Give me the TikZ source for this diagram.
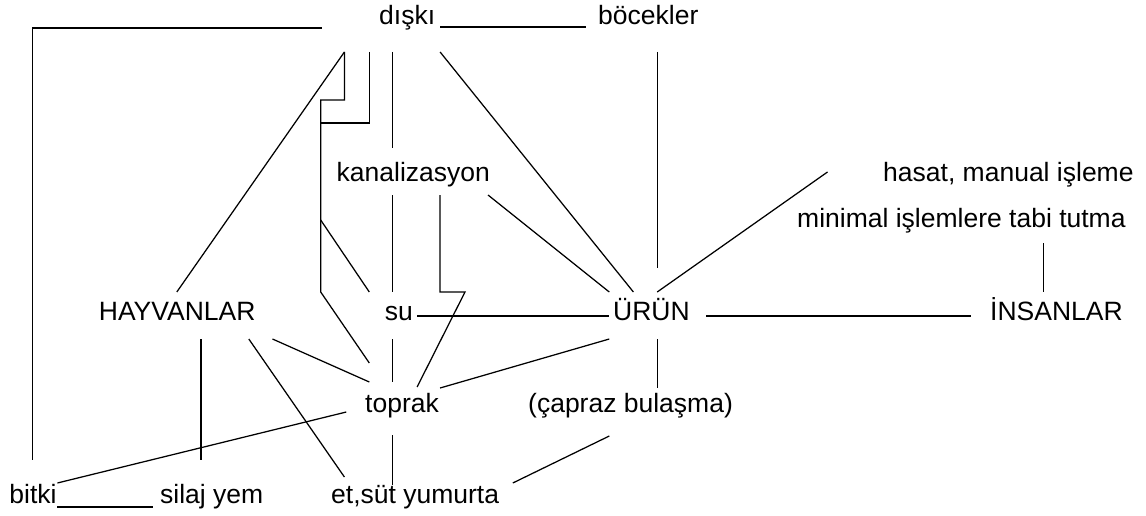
\documentclass[tikz,border=0pt]{standalone}
\usepackage{fontspec}
\setmainfont{Liberation Sans}
\begin{document}
\begin{tikzpicture}[x=1pt,y=-1pt,
  lbl/.style={inner sep=0pt, anchor=base west, font=\fontsize{26.5}{30}\selectfont},
  link/.style={line width=1.25pt, line join=miter}]
\useasboundingbox[fill=white] (0,0) rectangle (1146,516);

% ---- labels (left edge, baseline) ----
\node[lbl] (dk) at (379,25)    {dışkı};
\node[lbl] (bc) at (598,25)    {böcekler};
\node[lbl] (kn) at (336.5,182) {kanalizasyon};
\node[lbl] (hs) at (883,182)   {hasat, manual işleme};
\node[lbl] (mn) at (797,227)   {minimal işlemlere tabi tutma};
\node[lbl] (hy) at (98.7,320)  {HAYVANLAR};
\node[lbl] (su) at (384.6,320) {su};
\node[lbl] (ur) at (613,320)   {ÜRÜN};
\node[lbl] (in) at (990,320)   {İNSANLAR};
\node[lbl] (tp) at (365,412)   {toprak};
\node[lbl] (cb) at (528,412)   {(çapraz bulaşma)};
\node[lbl] (bt) at (9.2,503)   {bitki};
\node[lbl] (sy) at (160,503)   {silaj yem};
\node[lbl] (es) at (331,503)   {et,süt yumurta};

% ---- connector end points ----
% dışkı
\coordinate (dkL)  at (321.5,28);
\coordinate (dkR)  at (440.1,27);
\coordinate (dkA)  at (344.4,52);
\coordinate (dkB)  at (369.3,52);
\coordinate (dkC)  at (392.3,52);
\coordinate (dkD)  at (440.1,52);
% böcekler
\coordinate (bcL)  at (586.4,27);
\coordinate (bcS)  at (657.2,52);
% kanalizasyon
\coordinate (knN)  at (392.3,148);
\coordinate (knA)  at (392.3,195);
\coordinate (knB)  at (440.1,195);
\coordinate (knC)  at (488,195);
% hasat / minimal
\coordinate (hsS)  at (827.5,172);
\coordinate (mnS)  at (1043.7,243);
% HAYVANLAR
\coordinate (hyN)  at (176.8,292);
\coordinate (hyA)  at (200.9,339);
\coordinate (hyB)  at (248.8,339);
\coordinate (hyC)  at (272.5,339);
% su
\coordinate (suN)  at (392.3,292);
\coordinate (suW)  at (369.3,292);
\coordinate (suE)  at (417.1,316);
\coordinate (suS)  at (392.3,339);
% ÜRÜN
\coordinate (urN)  at (657.2,268);
\coordinate (urNW) at (609.3,292);
\coordinate (urND) at (633.4,292);
\coordinate (urNE) at (657.2,292);
\coordinate (urW)  at (609.3,316);
\coordinate (urE)  at (706.1,316);
\coordinate (urSW) at (609.3,339);
\coordinate (urS)  at (657.2,339);
% İNSANLAR
\coordinate (inN)  at (1043.7,292);
\coordinate (inW)  at (971,316);
% toprak
\coordinate (tpNW) at (369.3,363);
\coordinate (tpHy) at (369.3,382);
\coordinate (tpN)  at (392.3,382);
\coordinate (tpNE) at (417.1,387);
\coordinate (tpE)  at (440.1,388);
\coordinate (tpW)  at (346.3,412);
\coordinate (tpS)  at (392.3,435);
% (çapraz bulaşma)
\coordinate (cbN)  at (657.2,388);
\coordinate (cbS)  at (609.3,436);
% bottom row
\coordinate (btN)  at (32.5,460);
\coordinate (btE)  at (57.4,507);
\coordinate (btNE) at (57.4,483);
\coordinate (syW)  at (153.1,507);
\coordinate (syN)  at (200.9,460);
\coordinate (esNW) at (344.4,477);
\coordinate (esN)  at (392.3,485);
\coordinate (esNE) at (512.8,483);

% ---- connectors ----
\draw[link] (dkL) -- (32.5,28) -- (btN);
\draw[link] (dkR) -- (bcL);
\draw[link] (dkA) -- (hyN);
\draw[link] (dkA) -- (344.4,100) -- (320.7,100) -- (320.7,292) -- (tpNW);
\draw[link] (dkB) -- (369.3,123) -- (320.7,123);
\draw[link] (320.7,220) -- (suW);
\draw[link] (dkC) -- (knN);
\draw[link] (dkD) -- (urND);
\draw[link] (bcS) -- (urN);
\draw[link] (knA) -- (suN);
\draw[link] (knB) -- (440.1,292) -- (465,292) -- (tpNE);
\draw[link] (knC) -- (urNW);
\draw[link] (hsS) -- (urNE);
\draw[link] (mnS) -- (inN);
\draw[link] (suE) -- (urW);
\draw[link] (urE) -- (inW);
\draw[link] (urSW) -- (tpE);
\draw[link] (urS) -- (cbN);
\draw[link] (cbS) -- (esNE);
\draw[link] (hyC) -- (tpHy);
\draw[link] (hyB) -- (esNW);
\draw[link] (hyA) -- (syN);
\draw[link] (suS) -- (tpN);
\draw[link] (tpW) -- (btNE);
\draw[link] (tpS) -- (esN);
\draw[link] (btE) -- (syW);
\end{tikzpicture}
\end{document}
